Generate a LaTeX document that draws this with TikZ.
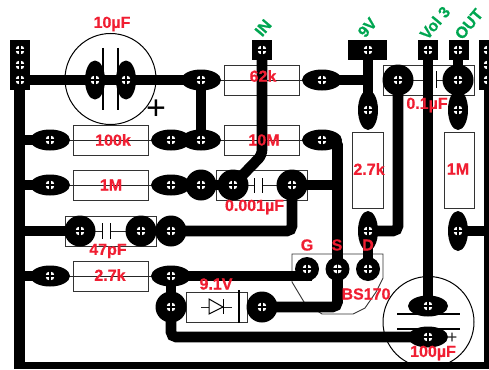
\documentclass[tikz,border=0pt]{standalone}
\usepackage{fontspec}
\setmainfont[BoldFeatures={FakeBold=0.6}]{Liberation Sans}
\usetikzlibrary{shapes.geometric}
\pgfdeclarelayer{top}
\pgfsetlayers{main,top}
\definecolor{lblred}{HTML}{F01E32}
\definecolor{lblgreen}{HTML}{00A651}
\tikzset{
  every node/.style={inner sep=0pt,outer sep=0pt},
  hole/.style={path picture={
    \fill[white] (path picture bounding box.center) circle (4.6);
    \draw[black,line width=1.2pt] ([xshift=-5pt]path picture bounding box.center) -- ([xshift=5pt]path picture bounding box.center);
    \draw[black,line width=1.2pt] ([yshift=-5pt]path picture bounding box.center) -- ([yshift=5pt]path picture bounding box.center);
  }},
  padh/.style={ellipse,fill=black,minimum width=40pt,minimum height=21pt,hole},
  padv/.style={ellipse,fill=black,minimum width=20pt,minimum height=40pt,hole},
  padr/.style={circle,fill=black,minimum size=31pt,hole},
  padg/.style={circle,fill=black,minimum size=24pt,hole},
  padc/.style={ellipse,fill=black,minimum width=20pt,minimum height=39pt},
  padp/.style={circle,minimum size=20pt,hole},
  header/.style={rectangle,fill=black,anchor=center},
  wire/.style={line width=10.6pt,black},
  wiret/.style={line width=10.6pt,black,rounded corners=5pt},
  box/.style={rectangle,draw=black!80,line width=.9pt,fill=white},
  lead/.style={line width=.8pt,black!85},
  plate/.style={line width=1pt,black},
  lab/.style={text=lblred,font=\fontsize{16}{16}\bfseries\selectfont},
  glab/.style={text=lblgreen,font=\fontsize{16}{16}\bfseries\selectfont,rotate=50,anchor=west},
}
\begin{document}
\begin{tikzpicture}[x=1pt,y=-1pt]
\useasboundingbox (0,0) rectangle (489,369);
% boxes
\node[box,minimum width=75pt,minimum height=30pt] (r62) at (261.5,80) {};
\node[box,minimum width=75pt,minimum height=30pt] (r10M) at (261.5,140) {};
\node[box,minimum width=75pt,minimum height=30pt] (r100k) at (110.5,140) {};
\node[box,minimum width=75pt,minimum height=30pt] (r1Ma) at (110.5,185) {};
\node[box,minimum width=75pt,minimum height=30pt] (r27a) at (110.5,276) {};
\node[box,minimum width=30.5pt,minimum height=76pt] (r27b) at (368,170) {};
\node[box,minimum width=30pt,minimum height=76pt] (r1Mb) at (459,170) {};
\node[box,minimum width=91pt,minimum height=30pt] (c1n) at (262,185) {};
\node[box,minimum width=91pt,minimum height=30pt] (c47) at (110.5,231) {};
\node[box,minimum width=91pt,minimum height=30pt] (c100n) at (428.5,80) {};
\node[box,minimum width=61pt,minimum height=30pt] (dz) at (216.5,307) {};
\node[circle,draw=black,line width=1pt,minimum size=91pt] (c10u) at (110.5,79) {};
\node[circle,draw=black,line width=1pt,minimum size=91pt] (c100u) at (428.5,322) {};
\draw[line width=.9pt,black!80] (292,254) -- (383,254) -- (383,278) -- (376,292) -- (365,308) -- (353,314) -- (322,314) -- (304,302) -- (292,282) -- cycle;
% headers
\node[header,minimum width=20pt,minimum height=50pt] (hL) at (20,65) {};
\node[header,minimum width=20pt,minimum height=20pt] (hIN) at (262,50) {};
\node[header,minimum width=39pt,minimum height=20pt] (h9V) at (367.5,50) {};
\node[header,minimum width=20pt,minimum height=20pt] (hVol) at (428,50) {};
\node[header,minimum width=20pt,minimum height=20pt] (hOUT) at (458.5,50) {};
\node[header,minimum width=20pt,minimum height=50pt] (hR) at (489,65) {};
\begin{pgfonlayer}{top}
\foreach \n/\y in {La/50,Lb/65,Lc/80}{\node[padp] (\n) at (20,\y) {};}
\foreach \n/\y in {Ra/50,Rb/65,Rc/80}{\node[padp] (\n) at (488,\y) {};}
\node[padp] (pIN) at (262,50) {};
\node[padp] (p9V) at (368,50) {};
\node[padp] (pVol) at (428,50) {};
\node[padp] (pOUT) at (458,50) {};
\node[padc,hole] (ca) at (95,80) {};
\node[padc,hole] (cb) at (126,80) {};
\node[padh] (p201a) at (201,80) {};
\node[padh] (p322a) at (322,80) {};
\node[padv] (p368a) at (368,110) {};
\node[padr] (p398) at (398,80) {};
\node[padr] (p458a) at (458,80) {};
\node[padv] (p458b) at (458,110) {};
\node[padh] (p50a) at (50,140) {};
\node[padh] (p171a) at (171,140) {};
\node[padh] (p201b) at (201,140) {};
\node[padh] (p322b) at (322,140) {};
\node[padh] (p50b) at (50,185) {};
\node[padh] (p171b) at (171,185) {};
\node[padr] (p201c) at (201,185) {};
\node[padr] (p233) at (233,185) {};
\node[padr] (p292) at (292,185) {};
\node[padr] (p80) at (80,231) {};
\node[padr] (p141) at (141,231) {};
\node[padr] (p171c) at (171,231) {};
\node[padv] (p368b) at (368,231) {};
\node[padv] (p458c) at (458,231) {};
\node[padh] (p50c) at (50,276) {};
\node[padh] (p171d) at (171,276) {};
\node[padr] (p171e) at (171,307) {};
\node[padr] (p262) at (262,307) {};
\node[padg] (pG) at (307,269) {};
\node[padg] (pS) at (337.5,269) {};
\node[padg] (pD) at (368,269) {};
\node[padh] (p428a) at (428,306) {};
\node[padh] (p428b) at (428,337) {};
% labels
\node[lab] (t10u) at (112,24) {10µF};
\node[lab] (t100k) at (113,140) {100k};
\node[lab] (t1Ma) at (111,185) {1M};
\node[lab] (t27a) at (110,275) {2.7k};
\node[lab] (t47) at (108,251) {47pF};
\node[lab] (t62) at (263,76) {62k};
\node[lab] (t10M) at (264,140) {10M};
\node[lab] (t1n) at (254.5,207) {0.001µF};
\node[lab] (t91) at (216,284) {9.1V};
\node[lab] (t27b) at (369,169) {2.7k};
\node[lab] (t1Mb) at (458,169) {1M};
\node[lab] (t100n) at (427,105) {0.1µF};
\node[lab] (tG) at (307,245) {G};
\node[lab] (tS) at (337,245) {S};
\node[lab] (tD) at (368,245) {D};
\node[lab] (tBS) at (366,294) {BS170};
\node[lab] (t100u) at (433,353) {100µF};
\node[glab] (tIN) at (258,34) {IN};
\node[glab] (t9V) at (361,35) {9V};
\node[glab] (tVol) at (423,37) {Vol 3};
\node[glab] (tOUT) at (458,37) {OUT};
\node[font=\fontsize{34}{34}\selectfont,text=black] (tplus) at (156,110) {+};
\node[font=\fontsize{18}{18}\selectfont,text=black!85] (tplus2) at (452,338) {+};
\end{pgfonlayer}
% leads and plates
\foreach \a/\b in {p50a/r100k,p171a/r100k,p201b/r10M,p322b/r10M,p201a/r62,p322a/r62,p50b/r1Ma,p171b/r1Ma,p50c/r27a,p171d/r27a}{
  \draw[lead] (\a.center) -- (\a.center -| \b.center);}
\foreach \a/\b in {p368a/r27b,p368b/r27b,p458b/r1Mb,p458c/r1Mb}{
  \draw[lead] (\a.center) -- (\a.center -| \b.center);}
\coordinate (pl1) at (254,185); \coordinate (pl2) at (262,185);
\draw[lead] (p233.center) -- (pl1) (pl2) -- (p292.center);
\draw[plate] (254,178) -- (254,193) (262,178) -- (262,193);
\coordinate (pl3) at (102,231); \coordinate (pl4) at (110,231);
\draw[lead] (p80.center) -- (pl3) (pl4) -- (p141.center);
\draw[plate] (102,223) -- (102,239) (110,223) -- (110,239);
\coordinate (pl5) at (428,80); \coordinate (pl6) at (436,80);
\draw[lead] (p398.center) -- (pl5) (pl6) -- (p458a.center);
\draw[plate] (436,71) -- (436,88);
\draw[line width=2pt,black] (103,48) -- (103,110) (118,48) -- (118,110);
\draw[line width=2pt,black] (397,314) -- (460,314) (397,329) -- (460,329);
% diode
\draw[lead] (201,307) -- (232,307);
\draw[line width=1pt,black,fill=white] (209,299) -- (209,314) -- (223,307) -- cycle;
\draw[line width=1pt,black] (223,299) -- (223,314);
\draw[line width=2pt,black] (239,290) -- (239,323);
% wires
\coordinate (cBR) at (489,365.5);
\coordinate (cBL) at (14,365.5);
\coordinate (cRT) at (488,89);
\coordinate (cRB) at (488,369);
\coordinate (cLB) at (19.5,369);
\coordinate (cLT) at (19.5,85);
\draw[wire] (Lc.center) -- (p201a.center);
\draw[line width=11pt] (cLT) -- (cLB);
\draw[line width=7pt] (cBL) -- (cBR);
\draw[line width=8pt] (cRT) -- (cRB);
\draw[wire] (p201a.center) -- (p201b.center);
\draw[wire] (19.5,140) -- (p50a.center);
\draw[wire] (p171a.center) -- (p201b.center);
\draw[wire] (19.5,231) -- (p80.center);
\draw[wire] (19.5,276) -- (p50c.center);
\draw[wire] (19.5,185) -- (p50b.center);
\draw[wire] (p171b.center) -- (p233.center);
\draw[wire] (p322a.center) -- (368,80);
\draw[wire] (p9V.center) -- (p368a.center);
\draw[wiret] (p368b.center) -- (p398.center |- p368b.center) -- (p398.center);
\draw[wire] (p458c.center) -- (488,231);
\draw[wire] (pOUT.center) -- (p458b.center);
\draw[wire] (pVol.center) -- (p428a.center);
\draw[wiret,line join=round] (pIN.center) -- (262,155) -- (p233.center);
\draw[wiret] (p322b.center) -- (pS.center |- p322b.center) -- (pS.center);
\draw[wire] (p292.center) -- (pS.center |- p292.center);
\draw[wiret] (p171c.center) -- (p292.center |- p171c.center) -- (p292.center);
\draw[wire] (p171d.center) -- (307,276) -- (pG.center);
\draw[wire] (p171d.center) -- (p171e.center);
\draw[wiret] (p171e.center) -- (p171e.center |- p428b.center) -- (p428b.center);
\draw[wiret] (p262.center) -- (pS.center |- p262.center) -- (pS.center);
\draw[wire] (pD.center) -- (p368b.center);
\end{tikzpicture}
\end{document}
